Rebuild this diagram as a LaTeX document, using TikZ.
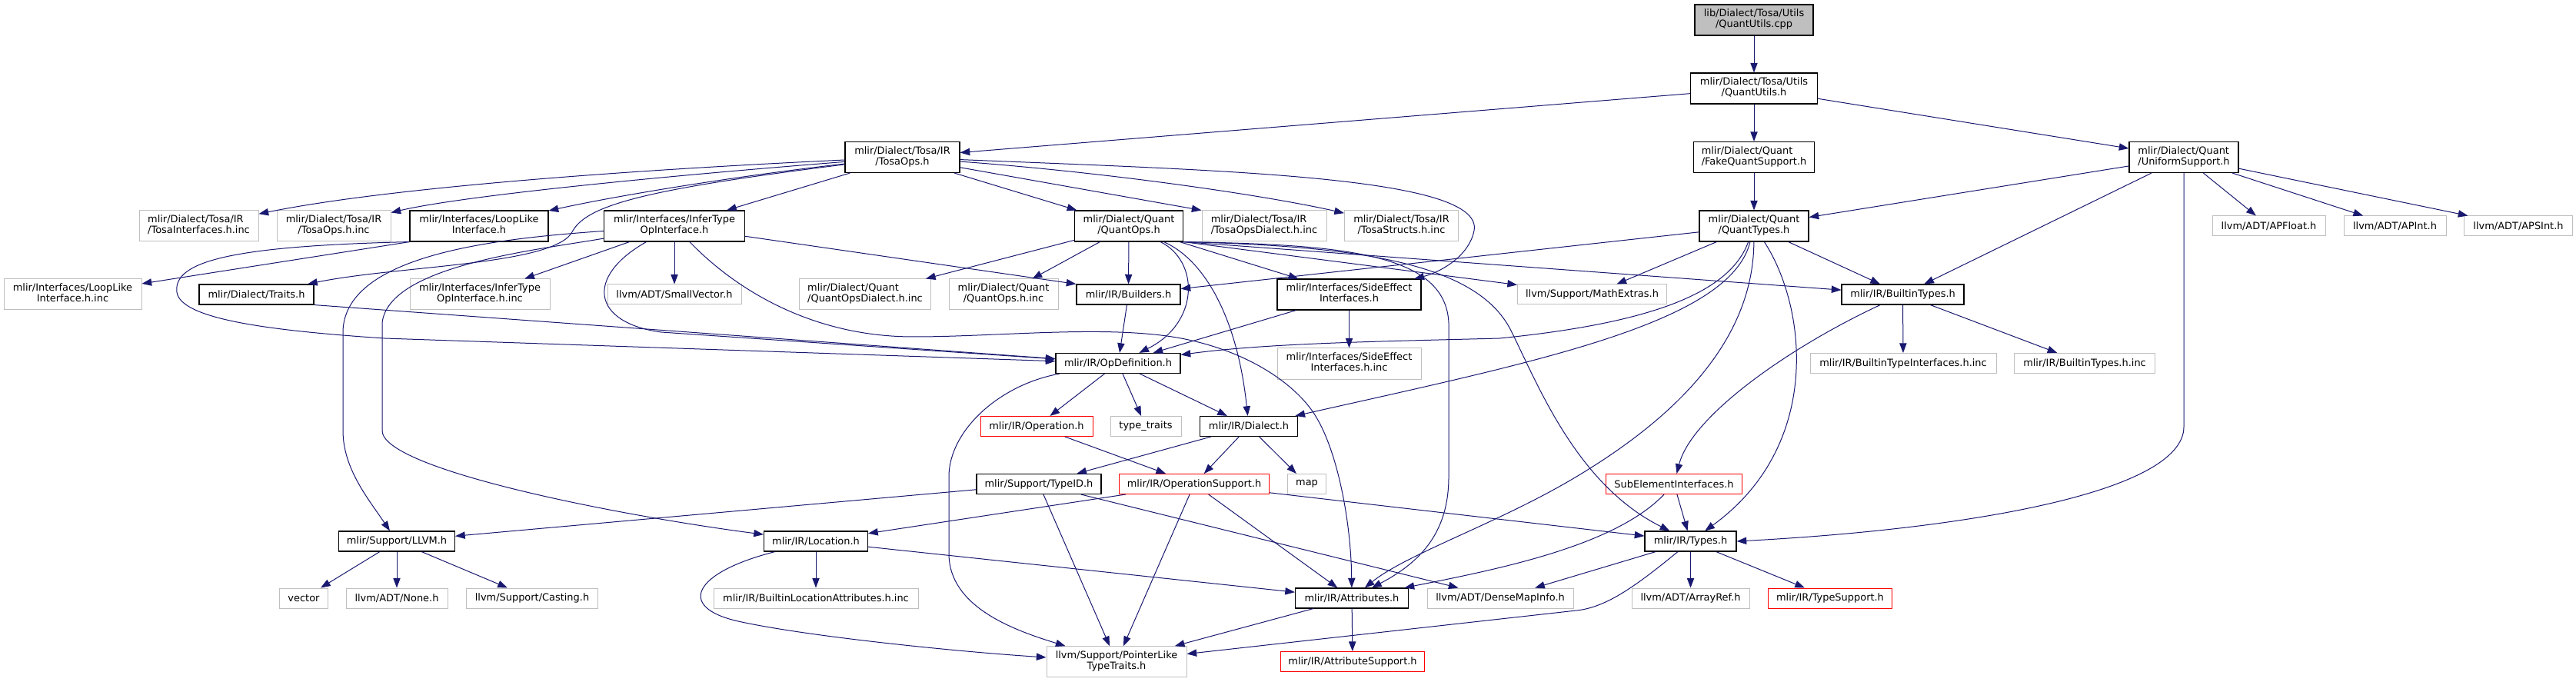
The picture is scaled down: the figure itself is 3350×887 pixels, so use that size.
\documentclass[tikz,border=0pt]{standalone}
\usepackage{fontspec}
\setmainfont{DejaVu Sans}
\usetikzlibrary{arrows.meta}
\definecolor{edgec}{HTML}{191970}
\definecolor{grayc}{HTML}{BFBFBF}
\definecolor{redc}{HTML}{FF0000}
\newcommand\nfont{\fontsize{9.7}{10.5}\selectfont}
\newcommand\twol[2]{\begin{tabular}{@{}l@{}}#1\\\hfill#2\hfill\mbox{}\end{tabular}}
\tikzset{
  bx/.style 2 args={draw, line width=0.75pt, inner sep=0pt, fill=white, text=black,
    minimum width=#1*0.75pt, minimum height=#2*0.75pt, font=\nfont},
  bk/.style={draw=black, line width=0.85pt},
  gy/.style={draw=grayc},
  rd/.style={draw=redc},
  rootn/.style={draw=black, fill=grayc, line width=0.85pt},
  conn/.style={draw=edgec, line width=0.75pt, -{Triangle[length=9.5pt,width=7pt]}},
}
\begin{document}
\begin{tikzpicture}[x=0.75pt, y=-0.75pt]
\useasboundingbox (0,0) rectangle (3350,887);
% ---- nodes ----
\node[bx={154}{40}, rootn] (qucpp) at (2281,26) {\twol{lib/Dialect/Tosa/Utils}{/QuantUtils.cpp}};
\node[bx={165}{40}, bk] (quh) at (2281,115) {\twol{mlir/Dialect/Tosa/Utils}{/QuantUtils.h}};
\node[bx={149}{40}, bk] (tosaops) at (1173.5,204.5) {\twol{mlir/Dialect/Tosa/IR}{/TosaOps.h}};
\node[bx={157}{40}, bk] (fakequant) at (2281,204.5) {\twol{mlir/Dialect/Quant}{/FakeQuantSupport.h}};
\node[bx={142}{40}, bk] (uniform) at (2840,204.5) {\twol{mlir/Dialect/Quant}{/UniformSupport.h}};
\node[bx={155}{40}, gy] (tosaifinc) at (258.5,294) {\twol{mlir/Dialect/Tosa/IR}{/TosaInterfaces.h.inc}};
\node[bx={148}{40}, gy] (tosaopsinc) at (434,294) {\twol{mlir/Dialect/Tosa/IR}{/TosaOps.h.inc}};
\node[bx={180}{40}, bk] (looplike) at (623,294) {\twol{mlir/Interfaces/LoopLike}{Interface.h}};
\node[bx={183}{40}, bk] (infer) at (877,294) {\twol{mlir/Interfaces/InferType}{OpInterface.h}};
\node[bx={141}{40}, bk] (quantops) at (1468,294) {\twol{mlir/Dialect/Quant}{/QuantOps.h}};
\node[bx={162}{40}, gy] (tosadialinc) at (1644,294) {\twol{mlir/Dialect/Tosa/IR}{/TosaOpsDialect.h.inc}};
\node[bx={148}{40}, gy] (tosastructsinc) at (1822.5,294) {\twol{mlir/Dialect/Tosa/IR}{/TosaStructs.h.inc}};
\node[bx={142}{40}, bk] (quanttypes) at (2281,294) {\twol{mlir/Dialect/Quant}{/QuantTypes.h}};
\node[bx={147}{26}, gy] (apfloat) at (2950.5,294) {llvm/ADT/APFloat.h};
\node[bx={133}{26}, gy] (apint) at (3114.5,294) {llvm/ADT/APInt.h};
\node[bx={141}{26}, gy] (apsint) at (3275,294) {llvm/ADT/APSInt.h};
\node[bx={179}{40}, gy] (looplikeinc) at (94.5,383) {\twol{mlir/Interfaces/LoopLike}{Interface.h.inc}};
\node[bx={149}{26}, bk] (traits) at (333.5,383) {mlir/Dialect/Traits.h};
\node[bx={182}{40}, gy] (inferinc) at (624,383) {\twol{mlir/Interfaces/InferType}{OpInterface.h.inc}};
\node[bx={174}{26}, gy] (smallvector) at (877,383) {llvm/ADT/SmallVector.h};
\node[bx={171}{40}, gy] (quantopsdialinc) at (1125,383) {\twol{mlir/Dialect/Quant}{/QuantOpsDialect.h.inc}};
\node[bx={142}{40}, gy] (quantopsinc) at (1305,383) {\twol{mlir/Dialect/Quant}{/QuantOps.h.inc}};
\node[bx={135}{26}, bk] (builders) at (1467.5,383) {mlir/IR/Builders.h};
\node[bx={187}{40}, bk] (sideeffect) at (1754.5,383) {\twol{mlir/Interfaces/SideEffect}{Interfaces.h}};
\node[bx={194}{26}, gy] (mathextras) at (2070.5,383) {llvm/Support/MathExtras.h};
\node[bx={159}{26}, bk] (builtintypes) at (2474.5,383) {mlir/IR/BuiltinTypes.h};
\node[bx={162}{26}, bk] (opdef) at (1454,472.5) {mlir/IR/OpDefinition.h};
\node[bx={187}{40}, gy] (sideeffectinc) at (1754.5,473) {\twol{mlir/Interfaces/SideEffect}{Interfaces.h.inc}};
\node[bx={242}{26}, gy] (builtintypeifinc) at (2475,472.5) {mlir/IR/BuiltinTypeInterfaces.h.inc};
\node[bx={183}{26}, gy] (builtintypesinc) at (2711,472.5) {mlir/IR/BuiltinTypes.h.inc};
\node[bx={146}{26}, rd] (operation) at (1348,554.5) {mlir/IR/Operation.h};
\node[bx={92}{26}, gy] (typetraits) at (1490,554.5) {type\_traits};
\node[bx={127}{26}, bk] (dialect) at (1624,554.5) {mlir/IR/Dialect.h};
\node[bx={162}{26}, bk] (typeid) at (1351,629.5) {mlir/Support/TypeID.h};
\node[bx={195}{26}, rd] (opsupport) at (1553,629.5) {mlir/IR/OperationSupport.h};
\node[bx={50}{26}, gy] (map) at (1699.5,629.5) {map};
\node[bx={177}{26}, rd] (subelement) at (2177,629.5) {SubElementInterfaces.h};
\node[bx={151}{26}, bk] (llvmh) at (516,704) {mlir/Support/LLVM.h};
\node[bx={135}{26}, bk] (location) at (1061,704) {mlir/IR/Location.h};
\node[bx={119}{26}, bk] (types) at (2198.5,704) {mlir/IR/Types.h};
\node[bx={63}{26}, gy] (vector) at (395,778) {vector};
\node[bx={132}{26}, gy] (none) at (516,778) {llvm/ADT/None.h};
\node[bx={171}{26}, gy] (casting) at (692,778) {llvm/Support/Casting.h};
\node[bx={266}{26}, gy] (builtinlocinc) at (1061,778) {mlir/IR/BuiltinLocationAttributes.h.inc};
\node[bx={147}{26}, bk] (attributes) at (1758,778) {mlir/IR/Attributes.h};
\node[bx={190}{26}, gy] (densemap) at (1951,778) {llvm/ADT/DenseMapInfo.h};
\node[bx={153}{26}, gy] (arrayref) at (2198.5,778) {llvm/ADT/ArrayRef.h};
\node[bx={161}{26}, rd] (typesupport) at (2380,778) {mlir/IR/TypeSupport.h};
\node[bx={182}{40}, gy] (pointerlike) at (1452,860.7) {\twol{llvm/Support/PointerLike}{TypeTraits.h}};
\node[bx={187}{26}, rd] (attrsupport) at (1759,860.5) {mlir/IR/AttributeSupport.h};
% ---- edges ----
\draw[conn] (qucpp) -- (quh);
\draw[conn] (quh) -- (tosaops);
\draw[conn] (quh) -- (fakequant);
\draw[conn] (quh) -- (uniform);
\draw[conn] (fakequant) -- (quanttypes);
\draw[conn] (uniform) -- (quanttypes);
\draw[conn] (uniform) -- (apfloat);
\draw[conn] (uniform) -- (apint);
\draw[conn] (uniform) -- (apsint);
\draw[conn] (uniform) -- (builtintypes);
\draw[conn] (uniform.south) -- (2840,555) .. controls (2840,640) and (2560,688) .. (types.east);
\draw[conn] (tosaops) .. controls (800,222) and (500,245) .. (tosaifinc);
\draw[conn] (tosaops) .. controls (850,230) and (600,255) .. (tosaopsinc);
\draw[conn] (tosaops) .. controls (950,230) and (800,255) .. (looplike);
\draw[conn] (tosaops) .. controls (850,245) and (765,265) .. (745,300) .. controls (725,345) and (520,345) .. (traits);
\draw[conn] (tosaops) -- (infer);
\draw[conn] (tosaops) -- (quantops);
\draw[conn] (tosaops) -- (tosadialinc.north west);
\draw[conn] (tosaops) .. controls (1450,225) and (1650,255) .. (tosastructsinc);
\draw[conn] (tosaops) .. controls (1600,222) and (1930,230) .. (1917,300) .. controls (1910,335) and (1870,355) .. (sideeffect);
\draw[conn] (infer) -- (inferinc);
\draw[conn] (infer) -- (smallvector);
\draw[conn] (infer) -- (builders.north west);
\draw[conn] (infer) .. controls (760,360) and (770,420) .. (860,432) -- (opdef);
\draw[conn] (infer) .. controls (960,380) and (1060,438) .. (1188,438) .. controls (1300,438) and (1440,422) .. (1536,440) .. controls (1630,458) and (1690,505) .. (1712,543) .. controls (1740,590) and (1757,680) .. (attributes);
\draw[conn] (infer) .. controls (700,325) and (505,345) .. (497,420) -- (497,560) .. controls (497,610) and (800,670) .. (location);
\draw[conn] (infer) .. controls (650,310) and (450,330) .. (446,430) -- (446,560) .. controls (446,610) and (480,650) .. (llvmh);
\draw[conn] (looplike.south west) -- (looplikeinc);
\draw[conn] (looplike.south west) .. controls (300,320) and (225,340) .. (230,380) .. controls (235,415) and (350,430) .. (500,440) -- (opdef);
\draw[conn] (traits.south east) -- (opdef);
\draw[conn] (quantops) -- (quantopsdialinc);
\draw[conn] (quantops) -- (quantopsinc);
\draw[conn] (quantops) -- (builders);
\draw[conn] (quantops) .. controls (1560,340) and (1560,420) .. (opdef);
\draw[conn] (quantops) .. controls (1570,340) and (1610,420) .. (dialect);
\draw[conn] (quantops) -- (sideeffect);
\draw[conn] (quantops.south east) -- (mathextras);
\draw[conn] (quantops.south east) -- (builtintypes);
\draw[conn] (quantops.south east) .. controls (1750,318) and (1880,330) .. (1884,420) -- (1884,620) .. controls (1884,690) and (1850,730) .. (attributes);
\draw[conn] (quantops.south east) .. controls (1760,320) and (1920,340) .. (1965,430) .. controls (2000,500) and (2050,630) .. (types);
\draw[conn] (sideeffect) -- (sideeffectinc);
\draw[conn] (sideeffect) -- (opdef);
\draw[conn] (builders) -- (opdef);
\draw[conn] (quanttypes) -- (builders);
\draw[conn] (quanttypes) -- (mathextras);
\draw[conn] (quanttypes) -- (builtintypes);
\draw[conn] (quanttypes) .. controls (2250,380) and (2150,420) .. (1950,440) .. controls (1800,444) and (1650,446) .. (opdef);
\draw[conn] (quanttypes) .. controls (2250,420) and (2000,470) .. (dialect);
\draw[conn] (quanttypes) .. controls (2280,460) and (2150,560) .. (2050,620) .. controls (1950,680) and (1830,720) .. (attributes);
\draw[conn] (quanttypes) .. controls (2350,400) and (2370,580) .. (types);
\draw[conn] (builtintypes) -- (builtintypeifinc);
\draw[conn] (builtintypes) -- (builtintypesinc);
\draw[conn] (builtintypes) .. controls (2330,450) and (2200,540) .. (subelement);
\draw[conn] (opdef) -- (operation);
\draw[conn] (opdef) -- (typetraits);
\draw[conn] (opdef) -- (dialect);
\draw[conn] (opdef) .. controls (1300,500) and (1234,560) .. (1234,620) -- (1234,720) .. controls (1234,790) and (1320,820) .. (pointerlike);
\draw[conn] (operation) -- (opsupport);
\draw[conn] (dialect) -- (typeid);
\draw[conn] (dialect) -- (opsupport);
\draw[conn] (dialect) -- (map);
\draw[conn] (typeid) -- (llvmh);
\draw[conn] (typeid) -- (pointerlike);
\draw[conn] (typeid) -- (densemap);
\draw[conn] (opsupport) -- (location);
\draw[conn] (opsupport) -- (pointerlike);
\draw[conn] (opsupport) -- (attributes);
\draw[conn] (opsupport) -- (types);
\draw[conn] (location) -- (builtinlocinc);
\draw[conn] (location) .. controls (900,745) and (880,790) .. (960,808) .. controls (1050,828) and (1250,848) .. (pointerlike);
\draw[conn] (location) -- (attributes);
\draw[conn] (subelement) -- (types);
\draw[conn] (subelement) .. controls (2100,710) and (1950,740) .. (attributes);
\draw[conn] (types) -- (densemap);
\draw[conn] (types) -- (arrayref);
\draw[conn] (types) -- (typesupport);
\draw[conn] (types) .. controls (2130,760) and (2090,790) .. (2050,794) -- (pointerlike);
\draw[conn] (attributes) -- (attrsupport);
\draw[conn] (attributes) -- (pointerlike);
\draw[conn] (llvmh) -- (vector);
\draw[conn] (llvmh) -- (none);
\draw[conn] (llvmh) -- (casting);
\end{tikzpicture}
\end{document}
